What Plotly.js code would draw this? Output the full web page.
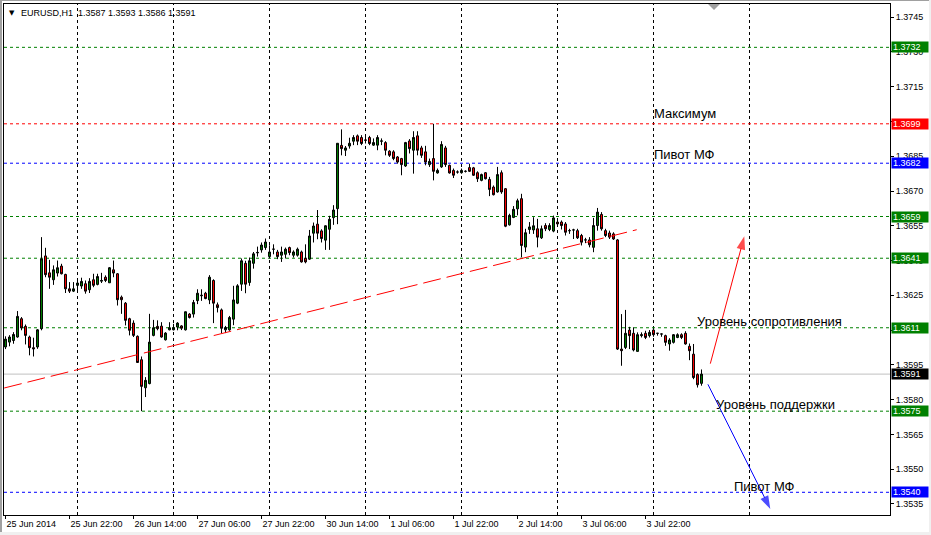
<!DOCTYPE html>
<html><head><meta charset="utf-8">
<script src="https://cdn.plot.ly/plotly-3.0.1.min.js"></script>
<style>html,body{margin:0;padding:0;background:#fff;overflow:hidden}
#wrap{position:relative;width:931px;height:535px}
#chart{position:absolute;left:0;top:0;width:931px;height:535px}
.edge{position:absolute;pointer-events:none}
</style>
</head><body><div id="wrap"><div id="chart"></div>
<div class="edge" style="left:0;top:0;width:2px;height:535px;background:#a0a0a0"></div>
<div class="edge" style="left:0;top:0;width:931px;height:1px;background:#a0a0a0"></div>
<div class="edge" style="left:929px;top:0;width:2px;height:535px;background:#f0f0f0"></div>
<div class="edge" style="left:0;top:532px;width:931px;height:3px;background:#f0f0f0"></div>
</div>
<script>
// ---- data (EURUSD H1, bars indexed from 25 Jun 2014 06:00) ----
const barOpen = [1.36027,1.36048,1.36055,1.36070,1.36149,1.36116,1.36070,1.36024,1.36027,1.36106,
1.36420,1.36347,1.36317,1.36346,1.36376,1.36340,1.36278,1.36268,1.36293,1.36290,
1.36300,1.36274,1.36317,1.36297,1.36311,1.36328,1.36304,1.36360,1.36343,1.36242,
1.36216,1.36149,1.36130,1.36073,1.35972,1.35851,1.35869,1.36077,1.36116,1.36117,
1.36058,1.36101,1.36101,1.36113,1.36118,1.36101,1.36169,1.36169,1.36227,1.36248,
1.36259,1.36230,1.36314,1.36209,1.36187,1.36101,1.36101,1.36147,1.36216,1.36298,
1.36388,1.36305,1.36388,1.36433,1.36446,1.36456,1.36417,1.36449,1.36437,1.36423,
1.36427,1.36456,1.36423,1.36423,1.36437,1.36409,1.36406,1.36518,1.36557,1.36528,
1.36488,1.36535,1.36585,1.36624,1.36897,1.36876,1.36894,1.36915,1.36938,1.36931,
1.36919,1.36931,1.36898,1.36898,1.36915,1.36909,1.36872,1.36869,1.36847,1.36840,
1.36808,1.36916,1.36876,1.36938,1.36886,1.36869,1.36814,1.36840,1.36778,1.36804,
1.36886,1.36811,1.36789,1.36782,1.36779,1.36785,1.36801,1.36800,1.36779,1.36746,
1.36779,1.36750,1.36717,1.36696,1.36779,1.36710,1.36554,1.36586,1.36623,1.36667,
1.36458,1.36534,1.36532,1.36537,1.36498,1.36551,1.36534,1.36527,1.36566,1.36566,
1.36558,1.36529,1.36532,1.36529,1.36508,1.36489,1.36489,1.36457,1.36551,1.36599,
1.36529,1.36519,1.36515,1.36489,1.36018,1.36025,1.36100,1.36086,1.36008,1.36076,
1.36086,1.36076,1.36100,1.36086,1.36083,1.36076,1.36040,1.36047,1.36068,1.36080,
1.36086,1.36030,1.35996,1.35908,1.35870];
const barHigh = [1.36073,1.36078,1.36091,1.36182,1.36156,1.36124,1.36076,1.36067,1.36104,1.36501,
1.36455,1.36403,1.36379,1.36400,1.36386,1.36343,1.36307,1.36307,1.36314,1.36326,
1.36314,1.36324,1.36343,1.36343,1.36347,1.36336,1.36372,1.36400,1.36346,1.36249,
1.36221,1.36153,1.36142,1.36077,1.35986,1.35897,1.36170,1.36144,1.36142,1.36134,
1.36091,1.36134,1.36127,1.36134,1.36121,1.36180,1.36173,1.36230,1.36276,1.36276,
1.36265,1.36337,1.36319,1.36219,1.36193,1.36118,1.36161,1.36291,1.36298,1.36409,
1.36399,1.36413,1.36437,1.36460,1.36478,1.36495,1.36466,1.36470,1.36446,1.36460,
1.36456,1.36460,1.36444,1.36456,1.36443,1.36470,1.36532,1.36564,1.36618,1.36535,
1.36552,1.36593,1.36639,1.36906,1.36966,1.36894,1.36930,1.36941,1.36944,1.36941,
1.36933,1.36938,1.36927,1.36941,1.36927,1.36915,1.36876,1.36876,1.36851,1.36843,
1.36912,1.36924,1.36958,1.36958,1.36895,1.36895,1.36840,1.36990,1.36797,1.36915,
1.36895,1.36814,1.36797,1.36789,1.36797,1.36789,1.36818,1.36804,1.36785,1.36775,
1.36782,1.36761,1.36724,1.36804,1.36789,1.36713,1.36602,1.36635,1.36667,1.36688,
1.36537,1.36566,1.36587,1.36580,1.36551,1.36561,1.36561,1.36594,1.36573,1.36573,
1.36566,1.36537,1.36537,1.36537,1.36515,1.36498,1.36501,1.36584,1.36627,1.36609,
1.36537,1.36529,1.36522,1.36493,1.36169,1.36187,1.36114,1.36112,1.36090,1.36090,
1.36097,1.36100,1.36104,1.36087,1.36084,1.36080,1.36065,1.36083,1.36086,1.36086,
1.36095,1.36042,1.36040,1.35913,1.35930];
const barLow = [1.36018,1.36030,1.36041,1.36067,1.36099,1.36038,1.35991,1.35986,1.36019,1.36099,
1.36328,1.36278,1.36295,1.36331,1.36340,1.36260,1.36260,1.36264,1.36268,1.36278,
1.36257,1.36260,1.36285,1.36293,1.36303,1.36307,1.36303,1.36328,1.36206,1.36170,
1.36120,1.36077,1.36070,1.35958,1.35750,1.35811,1.35866,1.36073,1.36099,1.36067,
1.36055,1.36099,1.36099,1.36099,1.36100,1.36098,1.36150,1.36154,1.36212,1.36226,
1.36233,1.36212,1.36130,1.36176,1.36087,1.36087,1.36097,1.36121,1.36212,1.36269,
1.36259,1.36291,1.36365,1.36417,1.36434,1.36446,1.36409,1.36427,1.36406,1.36394,
1.36409,1.36423,1.36413,1.36417,1.36391,1.36388,1.36403,1.36478,1.36492,1.36478,
1.36446,1.36446,1.36554,1.36557,1.36854,1.36851,1.36883,1.36898,1.36898,1.36898,
1.36905,1.36898,1.36895,1.36876,1.36898,1.36854,1.36847,1.36833,1.36818,1.36768,
1.36804,1.36862,1.36775,1.36854,1.36843,1.36811,1.36804,1.36746,1.36775,1.36800,
1.36804,1.36775,1.36756,1.36775,1.36775,1.36780,1.36782,1.36765,1.36739,1.36742,
1.36750,1.36678,1.36681,1.36693,1.36688,1.36544,1.36551,1.36583,1.36595,1.36414,
1.36436,1.36515,1.36515,1.36457,1.36493,1.36527,1.36527,1.36522,1.36551,1.36534,
1.36508,1.36515,1.36493,1.36493,1.36465,1.36475,1.36457,1.36436,1.36529,1.36529,
1.36501,1.36493,1.36489,1.36014,1.35946,1.36018,1.36018,1.36008,1.36008,1.36068,
1.36061,1.36068,1.36071,1.36076,1.36071,1.36032,1.36011,1.36042,1.36065,1.36061,
1.36037,1.35970,1.35888,1.35852,1.35860];
const barClose = [1.36061,1.36070,1.36081,1.36159,1.36109,1.36077,1.36024,1.36019,1.36101,1.36407,
1.36339,1.36328,1.36360,1.36369,1.36343,1.36278,1.36268,1.36278,1.36303,1.36310,
1.36268,1.36310,1.36293,1.36331,1.36314,1.36314,1.36369,1.36346,1.36231,1.36231,
1.36142,1.36099,1.36077,1.35960,1.35857,1.35883,1.36048,1.36110,1.36106,1.36070,
1.36087,1.36110,1.36110,1.36130,1.36108,1.36179,1.36154,1.36219,1.36259,1.36250,
1.36236,1.36328,1.36216,1.36197,1.36108,1.36111,1.36154,1.36230,1.36291,1.36399,
1.36298,1.36399,1.36429,1.36435,1.36467,1.36480,1.36437,1.36449,1.36417,1.36437,
1.36449,1.36434,1.36437,1.36449,1.36394,1.36394,1.36506,1.36549,1.36518,1.36495,
1.36550,1.36578,1.36618,1.36906,1.36883,1.36886,1.36906,1.36931,1.36915,1.36905,
1.36920,1.36905,1.36909,1.36931,1.36916,1.36876,1.36854,1.36840,1.36825,1.36814,
1.36909,1.36883,1.36931,1.36876,1.36854,1.36825,1.36828,1.36785,1.36789,1.36901,
1.36814,1.36778,1.36768,1.36782,1.36789,1.36785,1.36785,1.36768,1.36753,1.36771,
1.36753,1.36707,1.36684,1.36771,1.36696,1.36548,1.36595,1.36621,1.36658,1.36465,
1.36520,1.36545,1.36550,1.36501,1.36537,1.36537,1.36551,1.36584,1.36558,1.36551,
1.36522,1.36529,1.36532,1.36498,1.36479,1.36489,1.36468,1.36551,1.36609,1.36537,
1.36508,1.36501,1.36493,1.36018,1.36011,1.36086,1.36076,1.36014,1.36080,1.36080,
1.36068,1.36090,1.36080,1.36086,1.36083,1.36047,1.36057,1.36080,1.36080,1.36068,
1.36040,1.36011,1.35895,1.35864,1.35910];

const timeTickBars   = [0,16,32,48,64,80,96,112,128,144,160];
const timeTickLabels = ["25 Jun 2014","25 Jun 22:00","26 Jun 14:00","27 Jun 06:00","27 Jun 22:00",
  "30 Jun 14:00","1 Jul 06:00","1 Jul 22:00","2 Jul 14:00","3 Jul 06:00","3 Jul 22:00"];
const daySeparatorBars = [18,42,66,90,114,138,162,186];
const priceTicks = [1.3535,1.3550,1.3565,1.3580,1.3595,1.3610,1.3625,1.3640,1.3655,1.3670,1.3685,1.3700,1.3715,1.3730,1.3745];

const levelPrices = [1.3732,1.3699,1.3682,1.3659,1.3641,1.3611,1.3575,1.3540];
const levelColors = ["#008000","#ff0000","#0000ff","#008000","#008000","#008000","#008000","#0000ff"];
const bidPrice = 1.3591;

const trendBars   = [-0.33, 157.8];
const trendPrices = [1.35850, 1.36533];
const upArrowBars   = [176.2, 184.7];
const upArrowPrices = [1.35955, 1.36505];
const downArrowBars   = [175.6, 191.2];
const downArrowPrices = [1.35866, 1.35328];

const noteTexts  = ["Максимум","Пивот МФ","Уровень сопротивления","Уровень поддержки","Пивот МФ"];
const noteBars   = [162.2, 162.2, 172.9, 177.7, 182.2];
const notePrices = [1.37034, 1.36857, 1.36139, 1.35779, 1.35427];

// ---- figure ----
const barIdx = barOpen.map((_, i) => i);
const n = barOpen.length - 1;
const titleText = "EURUSD,H1&nbsp; " + [barOpen[n], barHigh[n], barLow[n], barClose[n]].map(v => v.toFixed(4)).join(" ");

const traces = [
  {type:'candlestick', x:barIdx, open:barOpen, high:barHigh, low:barLow, close:barClose,
   increasing:{line:{color:'#000', width:1}, fillcolor:'#008000'},
   decreasing:{line:{color:'#000', width:1}, fillcolor:'#ff0000'},
   whiskerwidth:0, hoverinfo:'skip', showlegend:false},
  {type:'scatter', mode:'lines+markers', x:upArrowBars, y:upArrowPrices,
   line:{color:'#ff0000', width:1}, marker:{symbol:'arrow', angleref:'previous', size:[0,14], color:'#ff0000', line:{width:0}},
   hoverinfo:'skip', showlegend:false},
  {type:'scatter', mode:'lines+markers', x:downArrowBars, y:downArrowPrices,
   line:{color:'#0000ff', width:1}, marker:{symbol:'arrow', angleref:'previous', size:[0,14], color:'#0000ff', line:{width:0}},
   hoverinfo:'skip', showlegend:false}
];

const shapes = [];
daySeparatorBars.forEach(b => shapes.push({type:'line', xref:'x', yref:'paper', x0:b, x1:b, y0:0, y1:1,
  line:{color:'#000', width:1, dash:'3px,3px'}, layer:'below'}));
levelPrices.forEach((p, k) => shapes.push({type:'line', xref:'paper', yref:'y', x0:0, x1:1, y0:p, y1:p,
  line:{color:levelColors[k], width:1, dash:'3px,3px'}, layer:'below'}));
shapes.push({type:'line', xref:'paper', yref:'y', x0:0, x1:1, y0:bidPrice, y1:bidPrice,
  line:{color:'#c0c0c0', width:1}, layer:'below'});
shapes.push({type:'line', xref:'x', yref:'y', x0:trendBars[0], x1:trendBars[1], y0:trendPrices[0], y1:trendPrices[1],
  line:{color:'#ff0000', width:1, dash:'18px,6px'}, layer:'above'});
// chart-shift marker (small grey triangle at the top edge)
shapes.push({type:'path', xref:'paper', yref:'paper',
  path:'M0.7946,1 L0.8081,1 L0.8014,0.9883 Z', fillcolor:'#a0a0a0', line:{width:0}, layer:'above'});

const annotations = [];
levelPrices.concat([bidPrice]).forEach((p, k) => annotations.push({
  xref:'paper', x:1, xanchor:'left', yref:'y', y:p, yanchor:'middle',
  text:p.toFixed(4), showarrow:false, bgcolor: k < levelColors.length ? levelColors[k] : '#000',
  font:{family:'Liberation Sans, Arial, sans-serif', size:9, color:'#fff'},
  width:34, height:8, align:'left', borderpad:1, xshift:1}));
noteTexts.forEach((t, k) => annotations.push({
  xref:'x', x:noteBars[k], xanchor:'left', yref:'y', y:notePrices[k], yanchor:'middle', xshift:-2,
  text:t, showarrow:false, font:{family:'Liberation Sans, Arial, sans-serif', size:13, color:'#000'}}));
annotations.push({xref:'paper', yref:'paper', x:0, y:1, xanchor:'left', yanchor:'top', xshift:15, yshift:-2,
  text:titleText, showarrow:false, font:{family:'Liberation Sans, Arial, sans-serif', size:9, color:'#000'}});
annotations.push({xref:'paper', yref:'paper', x:0, y:1, xanchor:'left', yanchor:'top', xshift:3, yshift:-3,
  text:'▼', showarrow:false, font:{family:'DejaVu Sans', size:7, color:'#000'}});

const layout = {
  width:931, height:535,
  margin:{l:4, r:41, t:4, b:20, pad:0},
  paper_bgcolor:'#fff', plot_bgcolor:'#fff', showlegend:false,
  font:{family:'Liberation Sans, Arial, sans-serif', size:9, color:'#000'},
  xaxis:{range:[-0.375, 221.125], tickmode:'array', tickvals:timeTickBars, ticktext:timeTickLabels,
    ticks:'outside', ticklen:3, tickcolor:'#000', ticklabelposition:'outside right',
    showgrid:false, zeroline:false, showline:true, linecolor:'#000', linewidth:1, mirror:true,
    rangeslider:{visible:false}, fixedrange:true, tickfont:{size:9, color:'#000'}},
  yaxis:{side:'right', range:[1.35302, 1.37507], tickmode:'array', tickvals:priceTicks, tickformat:'.4f',
    ticks:'outside', ticklen:3, tickcolor:'#000',
    showgrid:false, zeroline:false, showline:true, linecolor:'#000', linewidth:1, mirror:true,
    fixedrange:true, tickfont:{size:9, color:'#000'}},
  shapes:shapes, annotations:annotations
};
Plotly.newPlot('chart', traces, layout, {staticPlot:true, displayModeBar:false});
</script></body></html>
